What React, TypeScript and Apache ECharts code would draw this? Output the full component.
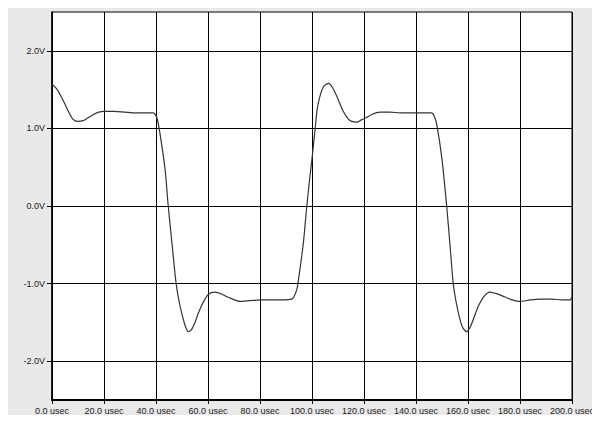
import React, { useEffect, useRef } from 'react'
import * as echarts from 'echarts'

// waveform: time in usec, level in volts
const timeUs = [
  0, 2, 4, 6, 8, 10, 12, 14, 16, 18, 20, 24, 28, 32, 36, 39,
  40.3, 41.5, 43.5, 44.7, 46.2, 47.7, 49, 50.5, 51.5, 52.4, 53.5, 55, 56.3, 58,
  60.1, 62.7, 65, 68, 72.3, 76, 80, 84, 88, 92.2,
  94.1, 95, 96.7, 98, 99.2, 100.1, 101.2, 102, 103.1, 104.5, 106.3, 108, 110.1,
  112, 114, 115.3, 117.2, 119, 121, 123, 126.2, 130, 134, 139, 146,
  147, 148, 150, 151.8, 153, 154.3, 155.5, 156.9, 158, 159.5, 161, 162.5, 164,
  166, 168.5, 171, 174, 177, 180, 184, 187.7, 192, 196, 199.2, 200,
]
const volts = [
  1.57, 1.5, 1.38, 1.24, 1.12, 1.09, 1.1, 1.14, 1.18, 1.21, 1.22, 1.22, 1.21, 1.2, 1.2, 1.2,
  1.14, 0.94, 0.47, 0.0, -0.5, -0.99, -1.25, -1.46, -1.57, -1.62, -1.6, -1.5, -1.38, -1.25,
  -1.14, -1.11, -1.13, -1.18, -1.23, -1.22, -1.21, -1.21, -1.21, -1.2,
  -1.08, -0.9, -0.47, 0.0, 0.38, 0.64, 0.99, 1.25, 1.42, 1.54, 1.58, 1.52, 1.37,
  1.22, 1.12, 1.09, 1.08, 1.11, 1.14, 1.18, 1.21, 1.21, 1.2, 1.2, 1.2,
  1.16, 1.05, 0.6, 0.0, -0.47, -0.99, -1.25, -1.46, -1.57, -1.62, -1.55, -1.42, -1.29,
  -1.17, -1.11, -1.13, -1.17, -1.21, -1.23, -1.21, -1.2, -1.2, -1.21, -1.21, -1.17,
]
const voltTicks = [-2, -1, 0, 1, 2]

const labelFont = {
  color: '#1a1a1a',
  fontSize: 9,
  fontFamily: '"Liberation Sans", Arial, sans-serif',
}

const App = () => {
  const chartRef = useRef<HTMLDivElement>(null)

  useEffect(() => {
    const chart = echarts.init(chartRef.current!, null, { renderer: 'svg' })

    chart.setOption({
      animation: false,
      backgroundColor: '#e9e9e9',
      grid: {
        left: 52,
        right: 28,
        top: 12,
        bottom: 23,
        show: true,
        backgroundColor: '#fff',
        borderColor: '#000',
        borderWidth: 1,
      },
      xAxis: {
        type: 'value',
        min: 0,
        max: 200,
        interval: 20,
        axisLine: { onZero: false, lineStyle: { color: '#000', width: 2 } },
        axisTick: { show: true, length: 4, lineStyle: { color: '#000' } },
        axisLabel: {
          ...labelFont,
          margin: 6,
          hideOverlap: false,
          formatter: (v: number) => v.toFixed(1) + ' usec',
        },
        splitLine: { show: true, lineStyle: { color: '#000', width: 1 } },
      },
      yAxis: {
        type: 'value',
        min: -2.5,
        max: 2.5,
        interval: 0.5,
        axisLine: { show: true, onZero: false, lineStyle: { color: '#000', width: 1.5 } },
        axisTick: {
          show: true,
          length: 5,
          customValues: voltTicks,
          lineStyle: { color: '#000' },
        },
        axisLabel: {
          ...labelFont,
          margin: 7,
          customValues: voltTicks,
          formatter: (v: number) => v.toFixed(1) + 'V',
        },
        splitLine: { show: true, lineStyle: { color: '#000', width: 1 } },
      },
      series: [
        {
          type: 'line',
          data: timeUs.map((t, i) => [t, volts[i]]),
          showSymbol: false,
          smooth: 0.25,
          lineStyle: { color: '#333', width: 1.2 },
        },
      ],
    })

    return () => {
      chart.dispose()
    }
  }, [])

  return <div style={{ width: '600px', height: '423px', margin: '-8px' }} ref={chartRef}></div>
}
export default App
